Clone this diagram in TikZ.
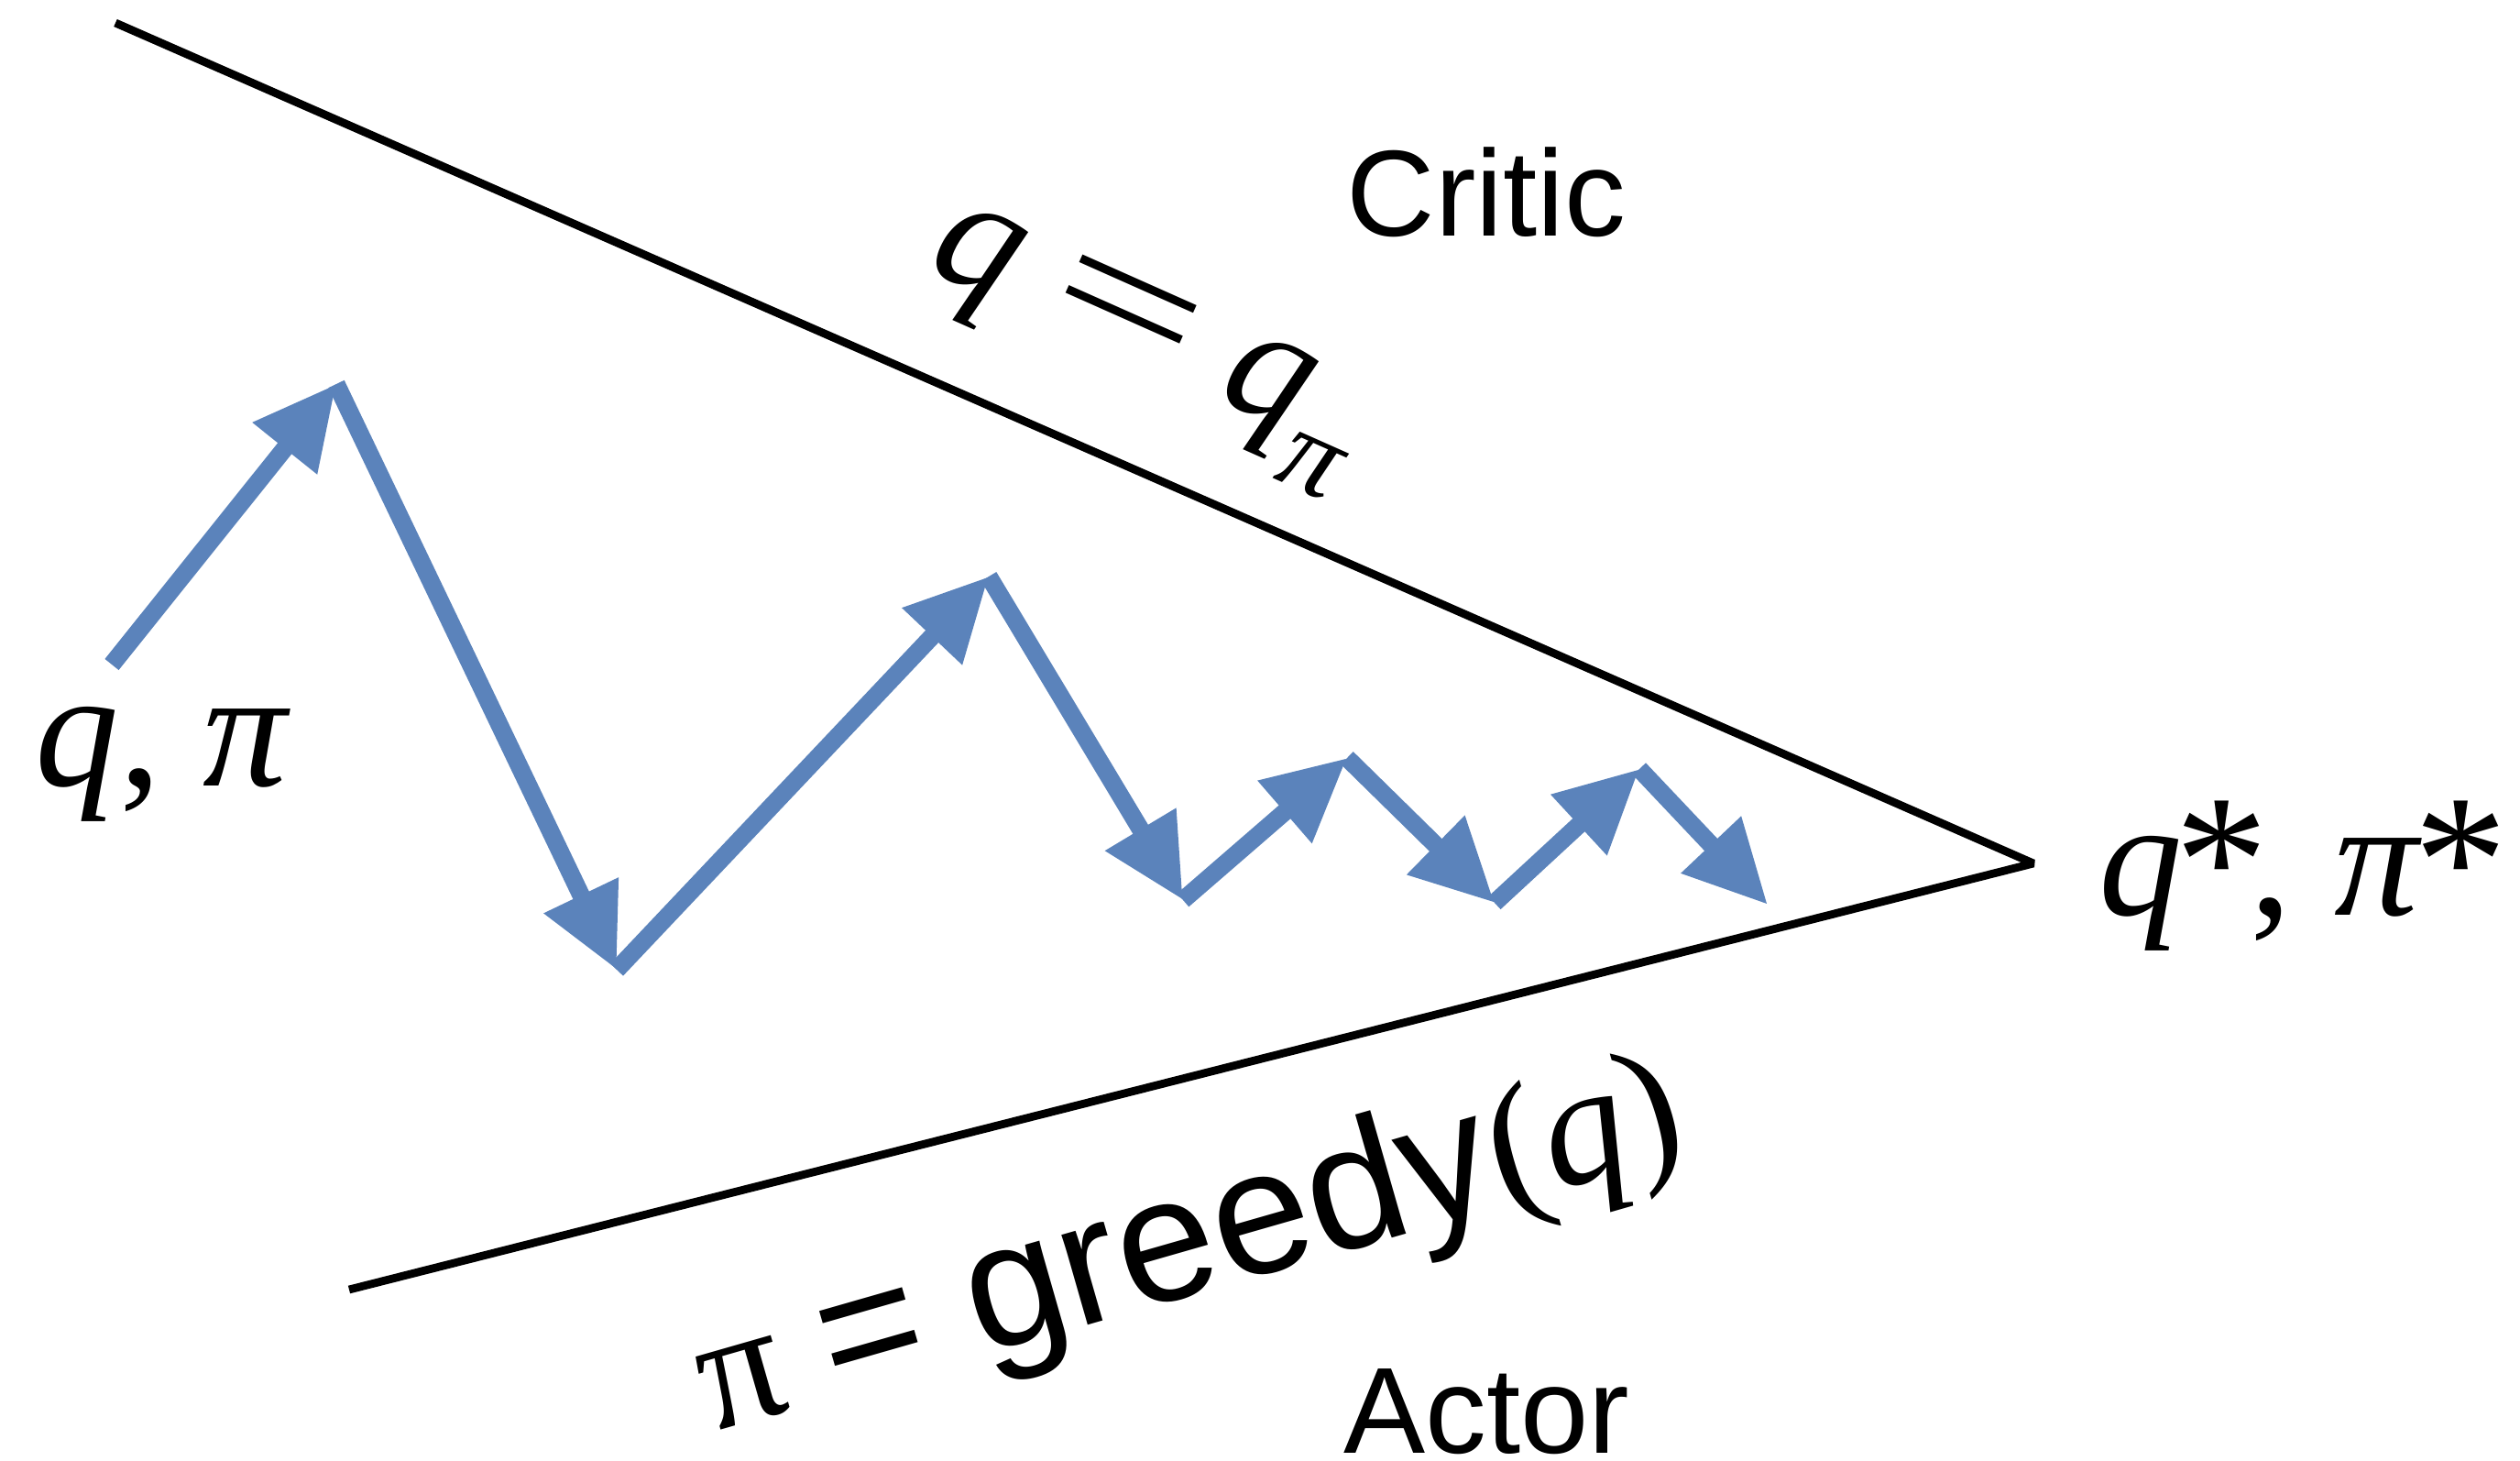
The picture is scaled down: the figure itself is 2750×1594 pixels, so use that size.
\documentclass[tikz,border=0pt]{standalone}
\usepackage{fontspec}
\setmainfont{Liberation Serif}
\setsansfont{Liberation Sans}
\usepackage{tikz}
\usetikzlibrary{arrows.meta}
\usepackage{xcolor}
\definecolor{stepblue}{RGB}{91,131,187}
\newcommand{\mv}[1]{\textit{#1}}
\newcommand{\opt}{\raisebox{-0.05em}{\fontsize{58}{58}\selectfont\kern-0.04em*\kern-0.1em}}
\newcommand{\wideeq}{\scalebox{1.6}[1]{=}}

\begin{document}
\begin{tikzpicture}[
    x=0.01cm, y=-0.01cm,
    improve/.style={-{Triangle[length=9mm, width=8.5mm]}, line width=5.5pt, draw=stepblue},
    bound/.style={line width=2.5pt, line join=bevel},
    mathlbl/.style={inner sep=0pt, font=\fontsize{52}{60}\selectfont},
    wordlbl/.style={inner sep=0pt, font=\sffamily\fontsize{38}{44}\selectfont}
  ]
    \useasboundingbox (0,0) rectangle (2750,1594);

    % wedge
    \coordinate (critic0) at (126,25);
    \coordinate (actor0)  at (381,1407);
    \coordinate (optimum) at (2219,942);
    \draw[bound] (critic0) -- (optimum) -- (actor0);

    % iterations
    \coordinate (p0) at (122,725);
    \coordinate (p1) at (367,419);
    \coordinate (p2) at (673,1058);
    \coordinate (p3) at (1079,629);
    \coordinate (p4) at (1291,982);
    \coordinate (p5) at (1470,827);
    \coordinate (p6) at (1631,985);
    \coordinate (p7) at (1789,839);
    \coordinate (p8) at (1929,987);
    \foreach \a/\b in {p0/p1, p1/p2, p2/p3, p3/p4, p4/p5, p5/p6, p6/p7, p7/p8}
      \draw[improve] (\a) -- (\b);

    % labels
    \node[mathlbl, anchor=base west] (start) at (38,857) {\mv{q}, \mv{π}};
    \node[mathlbl, anchor=base west] (goal)  at (2290,998) {\mv{q}\opt, \mv{π}\opt};
    \node[mathlbl, anchor=base, rotate=-24] (criticeq) at (1240,396)
      {\mv{q} \wideeq{} \mv{q}\raisebox{-0.3em}{\fontsize{36}{36}\selectfont\mv{π}}};
    \node[mathlbl, anchor=base, rotate=16] (actoreq) at (1312,1410)
      {π {\sffamily\fontsize{55}{60}\selectfont = greedy}(\mv{q})};
    \node[wordlbl, anchor=base] (critic) at (1622,258) {Critic};
    \node[wordlbl, anchor=base] (actor)  at (1622,1585) {Actor};
\end{tikzpicture}
\end{document}
